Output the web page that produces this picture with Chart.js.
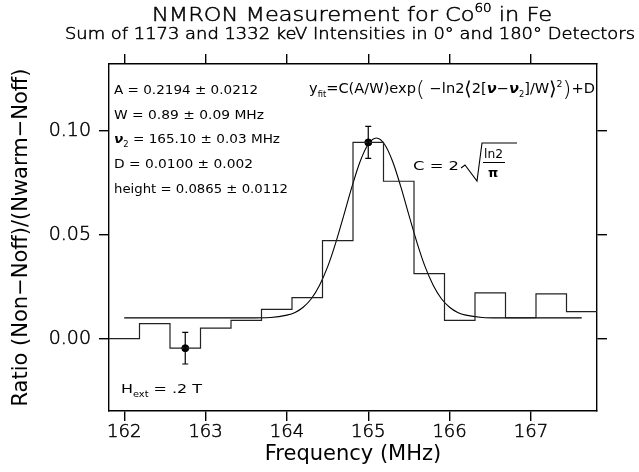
<!DOCTYPE html>
<html>
<head>
<meta charset="utf-8">
<script src="https://cdn.jsdelivr.net/npm/chart.js@4.4.1/dist/chart.umd.min.js"></script>
<style>
html, body { margin: 0; padding: 0; background: #fff; }
#wrap { width: 639px; height: 472px; }
</style>
</head>
<body>
<div id="wrap"><canvas id="nmron" width="639" height="472"></canvas></div>
<script>
// histogram bins: centre frequency (MHz) and measured ratio
var binFreq = [162.0, 162.375, 162.75, 163.125, 163.5, 163.875, 164.25, 164.625,
               165.0, 165.375, 165.75, 166.125, 166.5, 166.875, 167.25, 167.625];
var binRatio = [0.0000, 0.0072, -0.0046, 0.0051, 0.0088, 0.0141, 0.0197, 0.0471,
                0.0944, 0.0757, 0.0313, 0.0088, 0.0220, 0.0101, 0.0215, 0.0130];
var binWidth = 0.375;

// points drawn with error bars
var errFreq = [162.75, 165.0];
var errRatio = [-0.0046, 0.0944];
var errSize = [0.0076, 0.0077];

// fitted curve
var fitFreq = [162.0, 163.0, 163.5, 163.8, 164.0, 164.1, 164.2, 164.3, 164.4, 164.5,
               164.6, 164.7, 164.8, 164.9, 165.0, 165.1, 165.2, 165.3, 165.4, 165.5,
               165.6, 165.7, 165.8, 165.9, 166.0, 166.1, 166.2, 166.4, 166.6, 167.0, 167.625];
var fitRatio = [0.0100, 0.0100, 0.0100, 0.0102, 0.0113, 0.0126, 0.0151, 0.0192, 0.0256, 0.0345,
                0.0461, 0.0594, 0.0731, 0.0852, 0.0935, 0.0965, 0.0935, 0.0852, 0.0731, 0.0594,
                0.0461, 0.0345, 0.0256, 0.0192, 0.0151, 0.0126, 0.0113, 0.0102, 0.0100, 0.0100, 0.0100];

var xTicks = [162, 163, 164, 165, 166, 167];
var yTicks = [0.00, 0.05, 0.10];

var FONT = '"DejaVu Sans ExtraLight", "DejaVu Sans"';
var BOOK = '"DejaVu Sans"';
var LIGHT = '200';
function F(size, style) { return (style ? style : LIGHT) + ' ' + size + 'px ' + FONT; }
function B(size, style) { return (style ? style : 'normal') + ' ' + size + 'px ' + BOOK; }

// step outline: one point at each bin's left edge, plus the last right edge
var histPts = binFreq.map(function (f, i) { return {x: f - binWidth / 2, y: binRatio[i]}; });
histPts.push({x: binFreq[binFreq.length - 1] + binWidth / 2, y: binRatio[binRatio.length - 1]});

var fitPts = fitFreq.map(function (f, i) { return {x: f, y: fitRatio[i]}; });
var errPts = errFreq.map(function (f, i) { return {x: f, y: errRatio[i]}; });

// draws a run of text pieces (sub/superscripts), stretched to a width
function rich(ctx, runs, x, y, width, stroke) {
    var total = 0;
    runs.forEach(function (r) { ctx.font = r.f; r.w = ctx.measureText(r.t).width; total += r.w; });
    var sx = width ? width / total : 1;
    ctx.save();
    ctx.translate(x, y);
    ctx.scale(sx, 1);
    ctx.strokeStyle = '#000';
    ctx.lineWidth = stroke || 0;
    var cx = 0;
    runs.forEach(function (r) {
        ctx.font = r.f;
        ctx.fillText(r.t, cx, r.dy || 0);
        if (stroke) ctx.strokeText(r.t, cx, r.dy || 0);
        cx += r.w;
    });
    ctx.restore();
}

var errorBars = {
    id: 'errorBars',
    afterDatasetsDraw: function (chart) {
        var ctx = chart.ctx, xs = chart.scales.x, ys = chart.scales.y;
        ctx.save();
        ctx.strokeStyle = '#000';
        ctx.lineWidth = 1.2;
        errFreq.forEach(function (f, i) {
            var px = xs.getPixelForValue(f);
            var top = ys.getPixelForValue(errRatio[i] + errSize[i]);
            var bot = ys.getPixelForValue(errRatio[i] - errSize[i]);
            ctx.beginPath();
            ctx.moveTo(px, top); ctx.lineTo(px, bot);
            ctx.moveTo(px - 3, top); ctx.lineTo(px + 3, top);
            ctx.moveTo(px - 3, bot); ctx.lineTo(px + 3, bot);
            ctx.stroke();
        });
        ctx.restore();
    }
};

var labels = {
    id: 'labels',
    afterDraw: function (chart) {
        var ctx = chart.ctx;
        ctx.save();
        ctx.fillStyle = '#000';
        ctx.textBaseline = 'alphabetic';

        rich(ctx, [{t: 'NMRON Measurement for Co', f: F(20)}, {t: '60', f: F(12), dy: -9},
                   {t: ' in Fe', f: F(20)}], 152, 21, 400, 0.5);
        rich(ctx, [{t: 'Sum of 1173 and 1332 keV Intensities in 0\u00b0 and 180\u00b0 Detectors', f: F(15)}],
             65, 39, 570, 0.5);

        rich(ctx, [{t: 'A = 0.2194 \u00b1 0.0212', f: B(13)}], 114, 94, 144);
        rich(ctx, [{t: 'W = 0.89 \u00b1 0.09 MHz', f: B(13)}], 114, 118.5, 150);
        rich(ctx, [{t: '\u03bd', f: B(13, 'italic bold')}, {t: '2', f: B(8), dy: 4},
                   {t: ' = 165.10 \u00b1 0.03 MHz', f: B(13)}], 114, 143, 166);
        rich(ctx, [{t: 'D = 0.0100 \u00b1 0.002', f: B(13)}], 114, 168, 139);
        rich(ctx, [{t: 'height = 0.0865 \u00b1 0.0112', f: B(13)}], 114, 192.5, 174);

        rich(ctx, [{t: 'y', f: B(14)}, {t: 'fit', f: B(8), dy: 4}, {t: '=C(A/W)exp', f: B(14)},
                   {t: '(', f: F(22), dy: 3}, {t: ' \u2212ln2', f: B(14)}, {t: '\u27e8', f: F(19), dy: 2},
                   {t: '2[', f: B(14)}, {t: '\u03bd', f: B(14, 'italic bold')}, {t: '\u2212', f: B(14)},
                   {t: '\u03bd', f: B(14, 'italic bold')}, {t: '2', f: B(8), dy: 4}, {t: ']/W', f: B(14)},
                   {t: '\u27e9', f: F(19), dy: 2}, {t: '2', f: B(9), dy: -6}, {t: ')', f: F(22), dy: 3},
                   {t: '+D', f: B(14)}], 309, 93, 286);

        // C = 2 sqrt(ln2 / pi)
        rich(ctx, [{t: 'C = 2', f: B(13)}], 413, 170, 46);
        ctx.strokeStyle = '#000';
        ctx.lineWidth = 1.1;
        ctx.beginPath();
        ctx.moveTo(461, 168); ctx.lineTo(465, 165); ctx.lineTo(477, 181);
        ctx.lineTo(482, 143); ctx.lineTo(517, 143);
        ctx.moveTo(483, 162.5); ctx.lineTo(505, 162.5);
        ctx.stroke();
        rich(ctx, [{t: 'ln2', f: B(13)}], 484, 158, 19);
        rich(ctx, [{t: '\u03c0', f: B(13, 'bold')}], 488, 177);

        rich(ctx, [{t: 'H', f: B(13)}, {t: 'ext', f: B(8), dy: 4}, {t: ' = .2 T', f: B(13)}], 121, 392.5, 81);
        ctx.restore();
    }
};

function axisBase() {
    return {
        type: 'linear',
        grid: { drawOnChartArea: false, drawTicks: true, tickLength: 10, color: '#000', lineWidth: 1.4 },
        border: { display: true, color: '#000', width: 1.4 }
    };
}

var tickFont = { family: FONT, size: 18, weight: LIGHT };
var axisTitleFont = { family: BOOK, size: 21, weight: 'normal' };

var xAxis = Object.assign(axisBase(), {
    position: 'bottom', min: 161.8125, max: 167.8125,
    afterBuildTicks: function (s) { s.ticks = xTicks.map(function (v) { return {value: v}; }); },
    afterFit: function (s) { s.height = 61; },
    ticks: { color: '#000', font: tickFont, padding: 1, maxRotation: 0,
             textStrokeColor: '#000', textStrokeWidth: 0.5 },
    title: { display: true, text: 'Frequency (MHz)', color: '#000', font: axisTitleFont,
             padding: { top: 0, bottom: 5 } }
});
var x2Axis = Object.assign(axisBase(), {
    position: 'top', min: 161.8125, max: 167.8125,
    afterBuildTicks: function (s) { s.ticks = xTicks.map(function (v) { return {value: v}; }); },
    afterFit: function (s) { s.height = 64; },
    ticks: { display: false }
});
var yAxis = Object.assign(axisBase(), {
    position: 'left', min: -0.0348, max: 0.1321,
    afterBuildTicks: function (s) { s.ticks = yTicks.map(function (v) { return {value: v}; }); },
    afterFit: function (s) { s.width = 109; },
    ticks: { color: '#000', font: { family: FONT, size: 19, weight: LIGHT }, padding: 8,
             textStrokeColor: '#000', textStrokeWidth: 0.5,
             callback: function (v) { return v.toFixed(2); } },
    title: { display: true, text: 'Ratio (Non\u2212Noff)/(Nwarm\u2212Noff)', color: '#000',
             font: axisTitleFont, padding: { top: 9, bottom: 0 } }
});
var y2Axis = Object.assign(axisBase(), {
    position: 'right', min: -0.0348, max: 0.1321,
    afterBuildTicks: function (s) { s.ticks = yTicks.map(function (v) { return {value: v}; }); },
    afterFit: function (s) { s.width = 42; },
    ticks: { display: false }
});

new Chart(document.getElementById('nmron'), {
    type: 'line',
    data: {
        datasets: [{
            label: 'data',
            data: histPts,
            stepped: 'before',
            borderColor: '#222',
            borderWidth: 1.2,
            pointRadius: 0,
            fill: false
        }, {
            label: 'fit',
            data: fitPts,
            cubicInterpolationMode: 'monotone',
            borderColor: '#000',
            borderWidth: 1.1,
            pointRadius: 0,
            fill: false
        }, {
            label: 'points',
            data: errPts,
            showLine: false,
            pointRadius: 3.5,
            pointBackgroundColor: '#000',
            pointBorderColor: '#000'
        }]
    },
    options: {
        responsive: false,
        animation: false,
        layout: { padding: 0 },
        plugins: { legend: { display: false }, tooltip: { enabled: false }, title: { display: false } },
        scales: { x: xAxis, x2: x2Axis, y: yAxis, y2: y2Axis }
    },
    plugins: [errorBars, labels]
});
</script>
</body>
</html>
